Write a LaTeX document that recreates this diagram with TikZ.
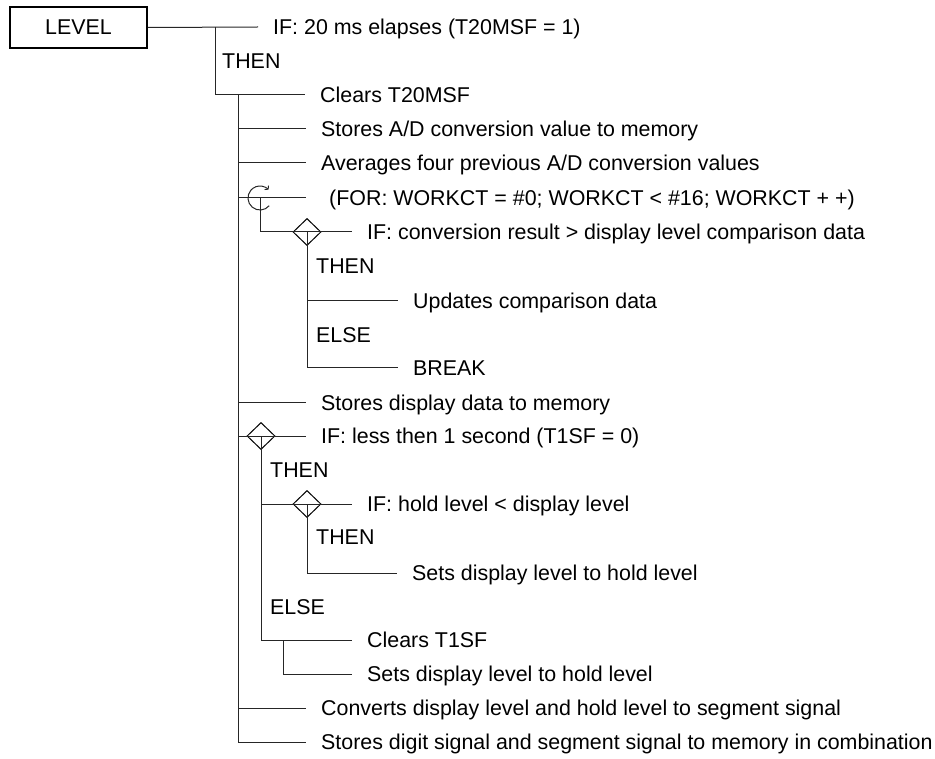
\documentclass[tikz,border=0pt]{standalone}
\usepackage{fontspec}
\setmainfont{Liberation Sans}
\usetikzlibrary{shapes.geometric,arrows.meta,positioning,calc}

\begin{document}
\begin{tikzpicture}[
    x=1pt, y=1pt,
    font=\fontsize{21.4}{25}\selectfont,
    line/.style={draw=black!85, line width=1pt},
    box/.style={rectangle, draw=black, line width=1.8pt, minimum width=137pt, minimum height=41pt, inner sep=0pt},
    txt/.style={anchor=west, inner xsep=15pt, inner ysep=0pt, text height=15pt, text depth=0pt},
    lbl/.style={anchor=west, inner sep=0pt, text height=15pt, text depth=0pt},
    dia/.style={diamond, draw=black, line width=1pt, minimum width=28pt, minimum height=27pt, inner sep=0pt}
]
    \useasboundingbox (0,0) rectangle (935,-759);

    % module and its first condition
    \node [box] (lvl) at (78.5,-27.5) {LEVEL};
    \node [txt] (t1) at (258,-27) {IF: 20 ms elapses (T20MSF = 1)};
    \node [lbl] (then1) at (222,-61) {THEN};
    \node [txt] (t2) at (305,-95) {Clears T20MSF};
    \node [txt] (t3) at (306,-129) {Stores A/D conversion value to memory};
    \node [txt] (t4) at (306,-163) {Averages four previous A/D conversion values};
    \node [txt, inner xsep=23pt] (t5) at (306,-198) {(FOR: WORKCT = \#0; WORKCT < \#16; WORKCT + +)};

    % inside the loop
    \node [dia] (d1) at (307,-232) {};
    \node [txt] (t6) at (352,-232) {IF: conversion result > display level comparison data};
    \node [lbl] (then2) at (316,-266) {THEN};
    \node [txt] (t7) at (398,-301) {Updates comparison data};
    \node [lbl] (else1) at (316,-335) {ELSE};
    \node [txt] (t8) at (398,-368) {BREAK};

    \node [txt] (t9) at (306,-403) {Stores display data to memory};
    \node [dia] (d2) at (261,-436) {};
    \node [txt] (t10) at (306,-436) {IF: less then 1 second (T1SF = 0)};
    \node [lbl] (then3) at (270,-470) {THEN};
    \node [dia] (d3) at (307,-504) {};
    \node [txt] (t11) at (352,-504) {IF: hold level < display level};
    \node [lbl] (then4) at (316,-537) {THEN};
    \node [txt] (t12) at (397,-573) {Sets display level to hold level};
    \node [lbl] (else2) at (270,-607) {ELSE};
    \node [txt] (t13) at (352,-640) {Clears T1SF};
    \node [txt] (t14) at (352,-674) {Sets display level to hold level};
    \node [txt] (t15) at (306,-708) {Converts display level and hold level to segment signal};
    \node [txt] (t16) at (306,-742) {Stores digit signal and segment signal to memory in combination};

    % bars
    \coordinate (b0) at (215,-27);
    \coordinate (b1) at (238,-95);
    \coordinate (lp) at (260,-198);
    \coordinate (b2) at (283,-640);

    \draw [line] (lvl.east) -- (t1.west);
    \draw [line] (b0) -- (b0 |- t2.west) -- (t2.west);
    \draw [line] (b1) -- (b1 |- t16.west) -- (t16.west);
    \foreach \n in {t3,t4,t5,t9,t10,t15}
        \draw [line] (b1 |- \n.west) -- (\n.west);

    % loop
    \draw [line, -{To[length=3pt,width=6pt]}] ($(lp)+(-40:12)$) arc[start angle=-40, end angle=-315, radius=12];
    \draw [line] (lp) -- (lp |- t6.west) -- (t6.west);
    \draw [line] (d1.center) -- (d1.center |- t8.west) -- (t8.west);
    \draw [line] (d1.center |- t7.west) -- (t7.west);

    % timer branch
    \draw [line] (d2.center) -- (d2.center |- t13.west) -- (t13.west);
    \draw [line] (d2.center |- t11.west) -- (t11.west);
    \draw [line] (d3.center) -- (d3.center |- t12.west) -- (t12.west);
    \draw [line] (b2) -- (b2 |- t14.west) -- (t14.west);
\end{tikzpicture}
\end{document}
